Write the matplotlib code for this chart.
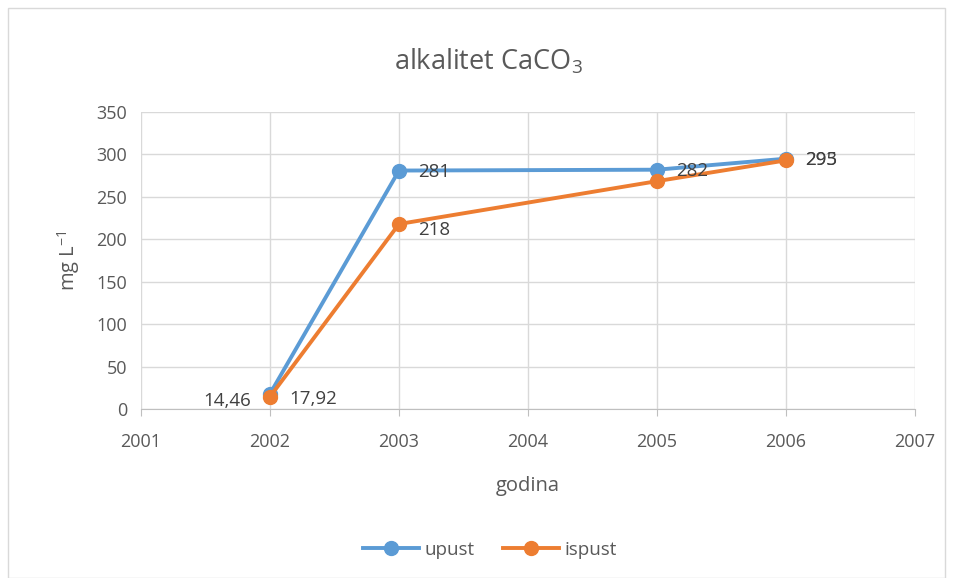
import matplotlib.pyplot as plt
from matplotlib.patches import Rectangle

years = [2002, 2003, 2005, 2006]
upust = [17.92, 281, 282, 295]
ispust = [14.46, 218, 268.5, 293]
upust_labels = ['17,92', '281', '282', '295']
ispust_labels = ['14,46', '218', None, '293']

blue = '#5B9BD5'
orange = '#ED7D31'
txt = '#595959'

plt.rcParams['font.family'] = ['Open Sans', 'DejaVu Sans']
plt.rcParams['mathtext.default'] = 'regular'

fig = plt.figure(figsize=(9.55, 5.78), dpi=100)
ax = fig.add_axes([141 / 955, 1 - 409 / 578, 774 / 955, 297 / 578])

ax.plot(years, upust, color=blue, lw=2.8, marker='o', ms=10, label='upust', zorder=3)
ax.plot(years, ispust, color=orange, lw=2.8, marker='o', ms=10, label='ispust', zorder=4)

# data labels
for x, y, s in zip(years, upust, upust_labels):
    dy = -4 if x == 2002 else -1
    ax.annotate(s, (x, y), xytext=(14, dy), textcoords='offset points',
                ha='left', va='center', fontsize=13.5, color='#404040', zorder=5)
for x, y, s in zip(years, ispust, ispust_labels):
    if s is None:
        continue
    if x == 2002:
        ax.annotate(s, (x, y), xytext=(-14, -3), textcoords='offset points',
                    ha='right', va='center', fontsize=13.5, color='#404040', zorder=5)
    else:
        ax.annotate(s, (x, y), xytext=(14, -4 if x == 2003 else 0), textcoords='offset points',
                    ha='left', va='center', fontsize=13.5, color='#404040', zorder=5)

ax.set_xlim(2001, 2007)
ax.set_ylim(0, 350)
ax.set_xticks(range(2001, 2008))
ax.set_yticks(range(0, 351, 50))
ax.grid(True, color='#D9D9D9', lw=1)
ax.set_axisbelow(True)
for side in ['top', 'right', 'left']:
    ax.spines[side].set_visible(False)
ax.spines['bottom'].set_color('#BFBFBF')
ax.tick_params(axis='both', length=0, labelsize=13, colors=txt, pad=10)
ax.tick_params(axis='x', length=5, color='#BFBFBF', pad=12)

ax.set_xlabel('godina', fontsize=14.5, color=txt, labelpad=18)
ax.set_ylabel('mg L$^{-1}$', fontsize=14.5, color=txt, labelpad=10)

fig.text(488 / 955, 1 - 62 / 578, 'alkalitet CaCO$_3$', ha='center', va='center',
         fontsize=19.5, color=txt)

fig.legend(loc='center', bbox_to_anchor=(490 / 955, 1 - 550 / 578), ncol=2,
           frameon=False, fontsize=13.5, labelcolor=txt, handlelength=3,
           handletextpad=0.3, columnspacing=1.5)

fig.patches.append(Rectangle((8 / 955, 0), 937 / 955, 1 - 8 / 578, transform=fig.transFigure,
                             fill=False, edgecolor='#D9D9D9', lw=1))

fig.savefig('out.png', dpi=100)
